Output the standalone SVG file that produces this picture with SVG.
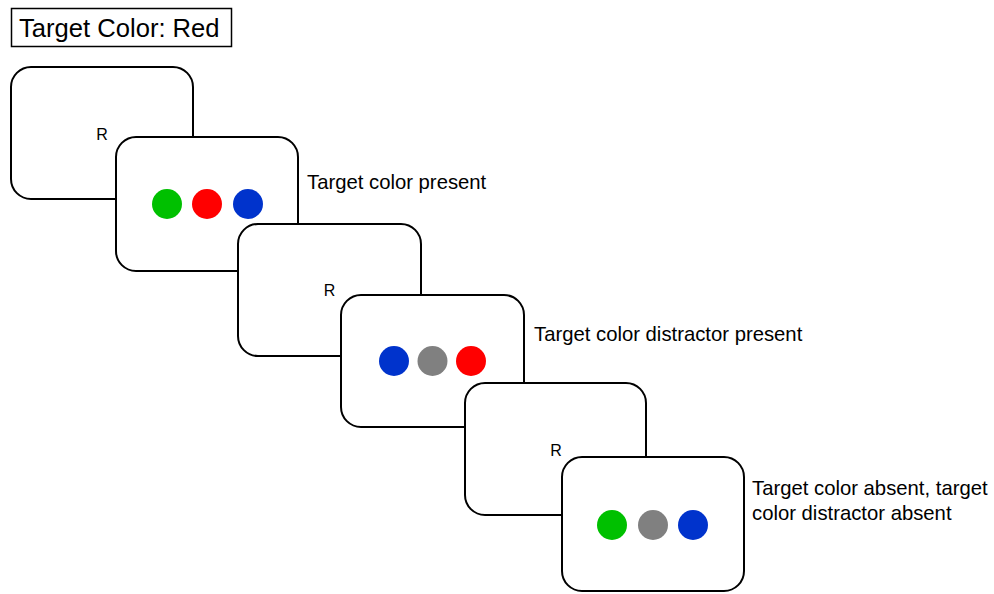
<svg xmlns="http://www.w3.org/2000/svg" width="994" height="594" viewBox="0 0 994 594">
<style>
.card{fill:#fff;stroke:#000;stroke-width:2}
.r{font-family:"Liberation Sans",Arial,sans-serif;font-size:16px;text-anchor:middle;fill:#000}
.lbl{font-family:"Liberation Sans",Arial,sans-serif;font-size:20.3px;fill:#000}
.g{fill:#00c000}.red{fill:#ff0000}.b{fill:#0033cc}.gr{fill:#808080}
</style>
<rect width="994" height="594" fill="#fff"/>
<g id="title">
<rect x="11.5" y="8.5" width="220" height="38" fill="#fff" stroke="#000" stroke-width="1.5"/>
<text x="19" y="36.5" font-family="'Liberation Sans',Arial,sans-serif" font-size="25.6" fill="#000">Target Color: Red</text>
</g>
<g id="cue1">
<rect class="card" x="11" y="67" width="182" height="132" rx="20"/>
<text class="r" x="102" y="140">R</text>
</g>
<g id="display1">
<rect class="card" x="116" y="137" width="182" height="134" rx="20"/>
<circle class="g" cx="167" cy="204" r="15"/>
<circle class="red" cx="207" cy="204" r="15"/>
<circle class="b" cx="248" cy="204" r="15"/>
</g>
<g id="label1"><text class="lbl" x="307" y="189">Target color present</text></g>
<g id="cue2">
<rect class="card" x="238" y="224" width="183" height="132" rx="20"/>
<text class="r" x="329.5" y="296">R</text>
</g>
<g id="display2">
<rect class="card" x="341" y="295" width="183" height="132" rx="20"/>
<circle class="b" cx="394" cy="361" r="15"/>
<circle class="gr" cx="432.5" cy="361" r="15"/>
<circle class="red" cx="471" cy="361" r="15"/>
</g>
<g id="label2"><text class="lbl" x="534" y="341">Target color distractor present</text></g>
<g id="cue3">
<rect class="card" x="465" y="383" width="181" height="132" rx="20"/>
<text class="r" x="556" y="456">R</text>
</g>
<g id="display3">
<rect class="card" x="562" y="457" width="182" height="134" rx="20"/>
<circle class="g" cx="612" cy="525" r="15"/>
<circle class="gr" cx="653" cy="525" r="15"/>
<circle class="b" cx="693" cy="525" r="15"/>
</g>
<g id="label3"><text class="lbl" x="752" y="495">Target color absent, target<tspan x="752" y="519.5">color distractor absent</tspan></text></g>
</svg>
